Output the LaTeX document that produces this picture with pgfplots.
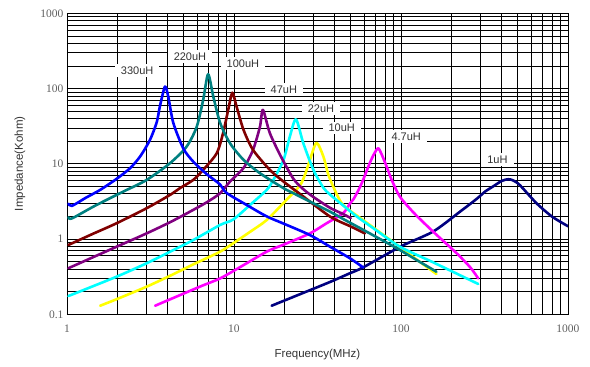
\documentclass[border=0pt]{standalone}
\usepackage{pgfplots}
\pgfplotsset{compat=1.18}
\usepackage{fontspec}
\setmainfont{Liberation Serif}
\newfontfamily\arialfont{Liberation Sans}
\definecolor{cBlue}{RGB}{0,0,255}
\definecolor{cTeal}{RGB}{0,128,128}
\definecolor{cDRed}{RGB}{128,0,0}
\definecolor{cPurple}{RGB}{128,0,128}
\definecolor{cCyan}{RGB}{0,255,255}
\definecolor{cYellow}{RGB}{255,255,0}
\definecolor{cMagenta}{RGB}{255,0,255}
\definecolor{cNavy}{RGB}{0,0,128}
\definecolor{tickgray}{RGB}{95,95,95}
\definecolor{labgray}{RGB}{50,50,50}
\begin{document}
\begin{tikzpicture}
\begin{axis}[
  at={(0,0)}, anchor=south west,
  scale only axis,
  width=501pt, height=301pt,
  xmode=log, ymode=log,
  xmin=1, xmax=1000, ymin=0.1, ymax=1000,
  xtick={1,10,100,1000}, xticklabels={1,10,100,1000},
  ytick={0.1,1,10,100,1000}, yticklabels={0.1,1,10,100,1000},
  /pgf/number format/assume math mode=true,
  major tick length=0pt, minor tick length=0pt,
  tick label style={font=\fontsize{11.5}{13}\selectfont, text=tickgray},
  xticklabel style={yshift=-7pt},
  grid=both,
  major grid style={black, line width=0.8pt},
  minor grid style={black, line width=0.6pt},
  axis line style={black, line width=0.8pt},
  xlabel={Frequency(MHz)}, ylabel={Impedance(Kohm)},
  label style={font=\arialfont\fontsize{11.5}{13}\selectfont, text=labgray},
  xlabel style={at={(axis description cs:0.5,-0.133)}, anchor=center},
  ylabel style={at={(axis description cs:-0.094,0.5)}, anchor=center, rotate=0},
  every axis plot/.append style={line width=2.6pt, line join=round, line cap=round, smooth, tension=0.45},
  clip=true,
]
% 1uH navy
\addplot[cNavy] coordinates {(16.8,0.13)(25,0.186)(37.6,0.269)(49.4,0.351)(59.3,0.42)(100,0.8)(156,1.26)(225,2.3)(283,3.4)(320,4.3)(356,5.0)(400,5.9)(438,6.24)(470,6.0)(515,5.2)(648,2.99)(802,1.99)(1000,1.48)};
% 4.7uH magenta
\addplot[cMagenta] coordinates {(3.37,0.13)(6.25,0.233)(8.26,0.30)(11,0.43)(15.7,0.68)(20,0.85)(28.5,1.19)(36,1.63)(45,2.2)(49.4,2.95)(52,3.4)(56,4.6)(59.3,6.1)(65,10.2)(69,13.5)(73,16.1)(77,13)(82,9.2)(88,6.1)(98.5,3.66)(120,2.2)(156,1.25)(215,0.65)(260,0.42)(290,0.30)};
% 10uH yellow
\addplot[cYellow] coordinates {(1.58,0.13)(2.0,0.16)(3.0,0.233)(4.2,0.33)(5.7,0.46)(8.26,0.68)(9.9,0.88)(12.5,1.25)(15.7,1.79)(20.6,3.31)(24.9,5.2)(26.8,7.5)(28.5,11.3)(31.2,19)(34.3,12.5)(36.5,7.5)(39.4,4.9)(45,2.84)(59.3,1.79)(80,1.1)(110,0.65)(163,0.343)};
% 22uH cyan
\addplot[cCyan] coordinates {(1.02,0.175)(1.98,0.316)(3.0,0.477)(4.2,0.69)(5.7,0.97)(8.26,1.54)(9.9,1.82)(12.5,2.85)(15.7,4.5)(17.2,6.1)(19.8,11.3)(21.6,23)(23.5,39)(26,18.8)(29.9,8.3)(34.3,4.8)(37.6,3.9)(45,2.8)(54.4,1.99)(70,1.34)(98.5,0.79)(150,0.51)(200,0.376)(290,0.253)};
% 47uH purple
\addplot[cPurple] coordinates {(1.02,0.41)(1.98,0.79)(3.0,1.19)(4.2,1.7)(5.7,2.44)(6.9,3.1)(8.26,4.06)(9.46,5.8)(11.4,8.8)(13,15.3)(14.3,31)(14.9,52)(16.4,25.5)(19.1,12.5)(22.7,6.3)(26,4.6)(30,3.6)(37.6,2.6)(45,2.15)(50,1.9)};
% 100uH dark red
\addplot[cDRed] coordinates {(1.02,0.835)(1.4,1.15)(1.98,1.62)(3.0,2.57)(4.14,3.86)(4.74,4.74)(5.7,6.1)(6.54,8.3)(7.88,13.8)(8.6,25.5)(9.23,52)(9.77,88)(10.35,58)(11.4,28.3)(13,15.3)(16.4,8.3)(19.8,5.8)(25,3.93)(37.6,1.99)(50,1.47)(60.8,1.19)};
% 220uH teal
\addplot[cTeal] coordinates {(1.02,1.95)(1.07,1.88)(1.44,2.7)(1.98,3.86)(2.28,4.5)(3.0,6.1)(4.14,10.2)(5.2,16.9)(5.98,31)(6.54,71)(7.0,155)(7.52,78)(8.26,35)(9.46,18.8)(11.4,11.3)(14.3,7.5)(19.8,4.74)(22.7,4.06)(30,2.97)(37.6,2.31)(45,1.85)(60,1.31)(94.3,0.755)(130,0.495)(163,0.368)};
% 330uH blue
\addplot[cBlue] coordinates {(1.02,2.95)(1.07,2.76)(1.3,3.55)(1.58,4.5)(1.98,6.3)(2.38,8.7)(2.74,12.5)(3.14,20.8)(3.45,36)(3.6,58)(3.86,106)(4.04,78)(4.33,35)(4.97,16)(5.7,10.7)(6.86,7.3)(8.26,5.3)(9.03,4.1)(12,2.81)(15.7,2.0)(20,1.59)(28.5,1.13)(38,0.78)(49.4,0.556)(59.3,0.42)};
% labels
\begin{scope}[every node/.style={fill=white, inner xsep=6pt, inner ysep=2.5pt, font=\arialfont\fontsize{11}{12}\selectfont, text=labgray}]
\node at (axis cs:2.63,172) {330uH};
\node at (axis cs:5.45,264) {220uH};
\node at (axis cs:11.3,213) {100uH};
\node at (axis cs:19.9,97.5) {47uH};
\node at (axis cs:33.2,54.2) {22uH};
\node at (axis cs:44.2,30.0) {10uH};
\node at (axis cs:107.5,23.0) {4.7uH};
\node at (axis cs:378,11.3) {1uH};
\end{scope}
\end{axis}
\pgfresetboundingbox
\path[use as bounding box] (-67pt,-52.7pt) rectangle (523pt,314.3pt);
\end{tikzpicture}
\end{document}
